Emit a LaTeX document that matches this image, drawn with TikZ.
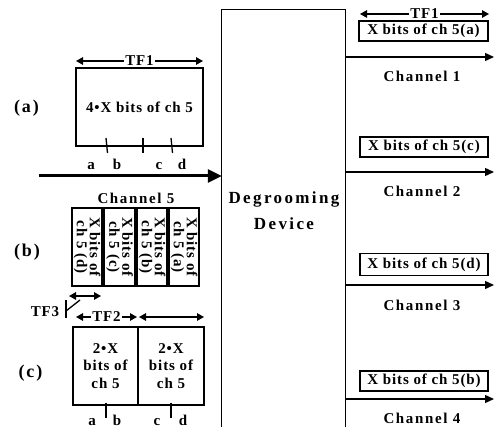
\documentclass[tikz,border=0pt]{standalone}
\usepackage{fontspec}
\setmainfont{Liberation Serif}[LetterSpace=6]
\usetikzlibrary{arrows.meta}
\begin{document}
\begin{tikzpicture}[x=1pt,y=-1pt,
  txt/.style={font=\bfseries\fontsize{15}{13}\selectfont, inner sep=0pt},
  chl/.style={font=\bfseries\fontsize{15}{15}\selectfont\addfontfeature{LetterSpace=11}, inner sep=0pt},
  big/.style={font=\bfseries\fontsize{18}{18}\selectfont\addfontfeature{LetterSpace=10}, inner sep=0pt},
  box/.style={draw, line width=1.3pt, inner sep=0pt, txt},
  ln/.style={line width=1.3pt},
  arr/.style={line width=1.3pt, -{Triangle[length=9pt,width=8pt]}},
  dbl/.style={line width=1.3pt, {Triangle[length=7pt,width=7.5pt]}-{Triangle[length=7pt,width=7.5pt]}},
  tfl/.style={txt, fill=white, inner xsep=1pt, inner ysep=0pt},
]
\useasboundingbox (0,0) rectangle (494,427);
% ---------------- (a)
\node[big, anchor=base] (la) at (26.5,113) {(a)};
\node[box, minimum width=127pt, minimum height=78pt] (A) at (139.5,107) {4•X bits of ch 5};
\coordinate (tfa1) at (76,61); \coordinate (tfa2) at (203,61);
\draw[dbl] (tfa1) -- node[tfl] (tfa) {TF1} (tfa2);
\draw[ln] (106,138) -- (107.5,153);
\draw[ln] (143,138) -- (143,153);
\draw[ln] (171,138) -- (172.5,153);
\node[txt, anchor=base] (aa) at (91,170) {a};
\node[txt, anchor=base] (ab) at (117,170) {b};
\node[txt, anchor=base] (ac) at (159,170) {c};
\node[txt, anchor=base] (ad) at (182,170) {d};
% ---------------- device
\node[inner sep=0pt, minimum width=123pt, minimum height=430pt] (dev) at (283.5,225) {};
\draw[ln] (dev.south west) -- (dev.north west) -- (dev.north east) -- (dev.south east);
\node[align=center, inner sep=0pt, font=\bfseries\fontsize{17}{26}\selectfont\addfontfeature{LetterSpace=14}] (devt) at (284,211) {Degrooming\\Device};
% main input arrow
\coordinate (in) at (39,176);
\draw[line width=3pt, -{Triangle[length=14pt,width=13pt]}] (in) -- (in -| dev.west);
\node[chl] (ch5) at (136,198) {Channel 5};
% ---------------- (b)
\node[big, anchor=base] (lb) at (27,256) {(b)};
\node[box, rotate=-90, align=center, minimum width=78pt, minimum height=30pt] (b1) at (87,247) {X bits of\\ch 5 (d)};
\node[box, rotate=-90, align=center, minimum width=78pt, minimum height=31pt] (b2) at (119.5,247) {X bits of\\ch 5 (c)};
\node[box, rotate=-90, align=center, minimum width=78pt, minimum height=30pt] (b3) at (152,247) {X bits of\\ch 5 (b)};
\node[box, rotate=-90, align=center, minimum width=78pt, minimum height=30pt] (b4) at (184,247) {X bits of\\ch 5 (a)};
% TF3
\coordinate (tf3a) at (69,296); \coordinate (tf3b) at (101,296);
\draw[dbl] (tf3a) -- (tf3b);
\coordinate (v1) at (66,300); \coordinate (v2) at (66,318);
\draw[ln] (v1) -- (v2);
\coordinate (d1) at (66,311); \coordinate (d2) at (80,300);
\draw[ln] (d1) -- (d2);
\node[txt] (tf3) at (45,312) {TF3};
% TF2
\coordinate (tf21) at (76,317); \coordinate (tf22) at (137,317);
\draw[dbl] (tf21) -- node[tfl] (tf2) {TF2} (tf22);
\coordinate (tf23) at (139,317); \coordinate (tf24) at (204,317);
\draw[dbl] (tf23) -- (tf24);
% ---------------- (c)
\node[big, anchor=base] (lc) at (30.5,377) {(c)};
\node[box, align=center, minimum width=65pt, minimum height=78pt, font=\bfseries\fontsize{15}{17.5}\selectfont] (c1) at (105.5,366) {2•X\\bits of\\ch 5};
\node[box, align=center, minimum width=66pt, minimum height=78pt, font=\bfseries\fontsize{15}{17.5}\selectfont] (c2) at (171,366) {2•X\\bits of\\ch 5};
\draw[ln] (106,403) -- (106,418);
\draw[ln] (171,403) -- (171,418);
\node[txt, anchor=base] (ca) at (92,425) {a};
\node[txt, anchor=base] (cb) at (117,425) {b};
\node[txt, anchor=base] (cc) at (157,425) {c};
\node[txt, anchor=base] (cd) at (183,425) {d};
% ---------------- outputs
\coordinate (tfr1) at (360,14); \coordinate (tfr2) at (489,14);
\draw[dbl] (tfr1) -- node[tfl] (tfr) {TF1} (tfr2);
\node[box, minimum width=129pt, minimum height=20pt] (ra) at (423.5,31) {X bits of ch 5(a)};
\node[box, minimum width=128pt, minimum height=20pt] (rc) at (424,147) {X bits of ch 5(c)};
\node[box, minimum width=128pt, minimum height=22pt] (rd) at (424,264.5) {X bits of ch 5(d)};
\node[box, minimum width=128pt, minimum height=20pt] (rb) at (424,381) {X bits of ch 5(b)};
\coordinate (o1) at (494,57);
\coordinate (o2) at (494,172);
\coordinate (o3) at (494,285);
\coordinate (o4) at (494,399);
\draw[arr] (o1 -| dev.east) -- (o1);
\draw[arr] (o2 -| dev.east) -- (o2);
\draw[arr] (o3 -| dev.east) -- (o3);
\draw[arr] (o4 -| dev.east) -- (o4);
\node[chl] (c1l) at (422,76) {Channel 1};
\node[chl] (c2l) at (422,191) {Channel 2};
\node[chl] (c3l) at (422,305) {Channel 3};
\node[chl] (c4l) at (422,418) {Channel 4};
\end{tikzpicture}
\end{document}
